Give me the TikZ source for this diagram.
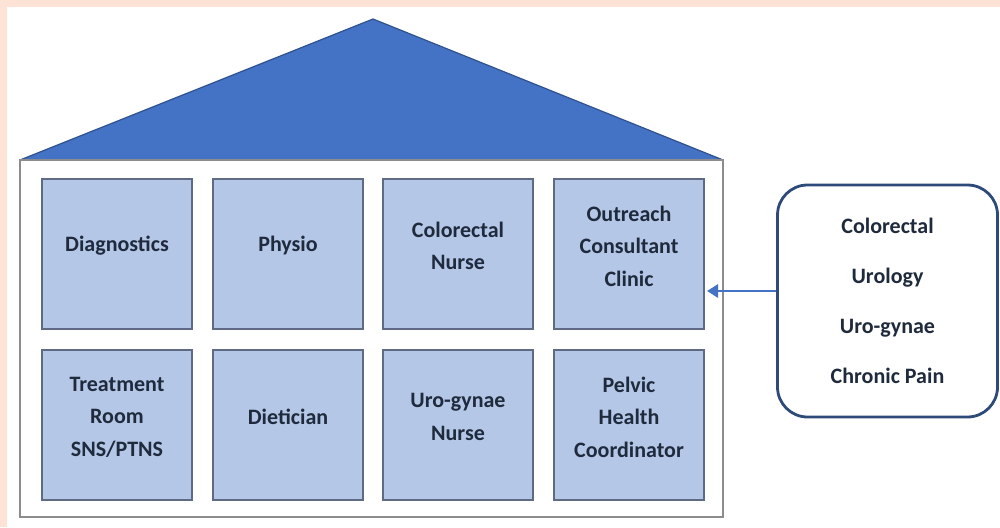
\documentclass[tikz,border=0pt]{standalone}
\usepackage{fontspec}
\setmainfont{Carlito}
\usetikzlibrary{arrows.meta}
\definecolor{peach}{HTML}{FDE2D6}
\definecolor{roof}{HTML}{4472C4}
\definecolor{roofline}{HTML}{2F528F}
\definecolor{boxfill}{HTML}{B4C7E7}
\definecolor{boxline}{HTML}{5F6B85}
\definecolor{houseline}{HTML}{8C8C8C}
\definecolor{sideline}{HTML}{2E4A78}
\definecolor{txt}{HTML}{1F2A3C}
\tikzset{
  room/.style={draw=boxline, line width=1.4pt, fill=boxfill, minimum width=150pt, minimum height=150pt,
    inner sep=0pt},
  roomtext/.style={inner sep=0pt, align=center, font=\fontsize{22}{32.5}\selectfont\bfseries, text=txt},
  sidebox/.style={draw=sideline, line width=2.8pt, rounded corners=30pt, fill=white,
    minimum width=220pt, minimum height=232pt, inner sep=0pt, align=center,
    font=\fontsize{22}{50}\selectfont\bfseries, text=txt},
  link/.style={draw=roof, line width=2.8pt, -{Triangle[length=11pt,width=13pt]}}
}
\begin{document}
\begin{tikzpicture}[x=1pt,y=-1pt]
\useasboundingbox (0,0) rectangle (1000,527);
\fill[white] (0,0) rectangle (1000,527);
\fill[peach] (0,0) rectangle (1000,7);
\fill[peach] (0,0) rectangle (7,527);
% roof
\draw[roofline, line width=1.2pt, fill=roof, line join=round] (20,160) -- (373,19) -- (723,160) -- cycle;
% house body
\draw[houseline, line width=1.6pt] (20,160) rectangle (723,517);
% rooms
\node[room] (diag) at (117,254) {};
\node[room] (physio) at (288,254) {};
\node[room] (colnurse) at (458,254) {};
\node[room] (outreach) at (629,254) {};
\node[room] (treat) at (117,425) {};
\node[room] (diet) at (288,425) {};
\node[room] (urogyn) at (458,425) {};
\node[room] (pelvic) at (629,425) {};
\node[roomtext] (t1) at ([yshift=8pt]diag.center) {Diagnostics};
\node[roomtext] (t2) at ([yshift=8pt]physio.center) {Physio};
\node[roomtext] (t3) at ([yshift=8pt]colnurse.center) {Colorectal\\Nurse};
\node[roomtext] (t4) at ([yshift=8pt]outreach.center) {Outreach\\Consultant\\Clinic};
\node[roomtext] (t5) at ([yshift=8pt]treat.center) {Treatment\\Room\\SNS/PTNS};
\node[roomtext] (t6) at ([yshift=8pt]diet.center) {Dietician};
\node[roomtext] (t7) at ([yshift=8pt]urogyn.center) {Uro-gynae\\Nurse};
\node[roomtext] (t8) at ([yshift=8pt]pelvic.center) {Pelvic\\Health\\Coordinator};
% side box
\node[sidebox] (spec) at (887.5,301) {Colorectal\\Urology\\Uro-gynae\\Chronic Pain};
\coordinate (tip) at (707,291);
\draw[link] (spec.west |- tip) -- (tip);
\end{tikzpicture}
\end{document}
